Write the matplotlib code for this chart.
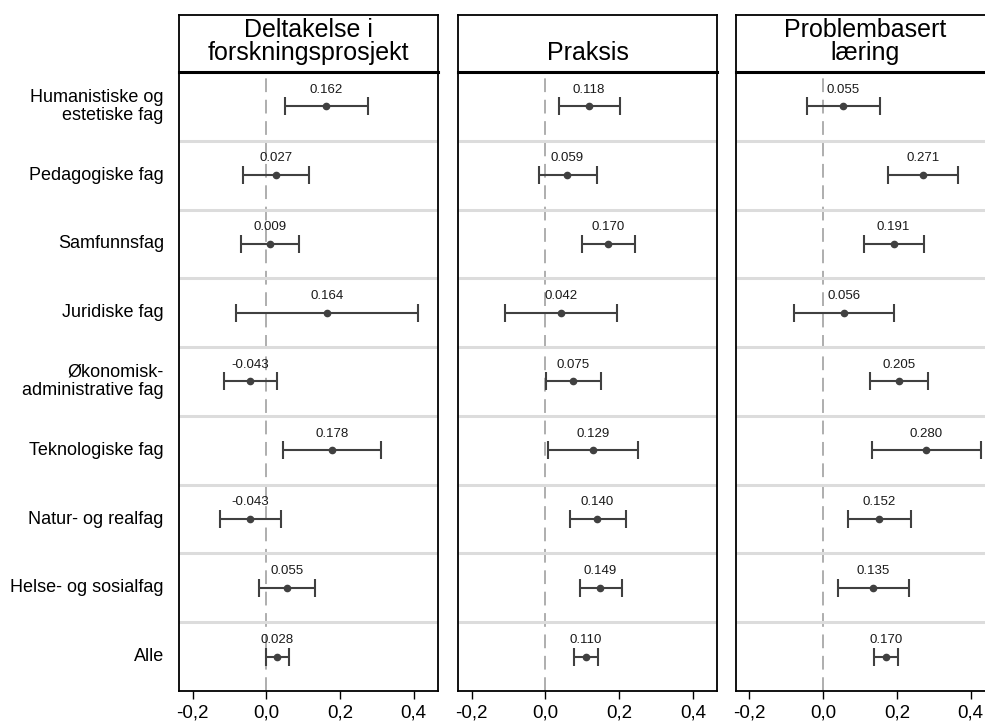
import matplotlib
matplotlib.use("Agg")
import matplotlib.pyplot as plt

plt.rcParams['font.family'] = ['Liberation Sans', 'DejaVu Sans']
plt.rcParams['axes.unicode_minus'] = False

categories = ["Humanistiske og\nestetiske fag", "Pedagogiske fag", "Samfunnsfag",
              "Juridiske fag", "Økonomisk-\nadministrative fag", "Teknologiske fag",
              "Natur- og realfag", "Helse- og sosialfag", "Alle"]
panel_titles = ["Deltakelse i\nforskningsprosjekt", "Praksis", "Problembasert\nlæring"]

est_forsk = [0.162, 0.027, 0.009, 0.164, -0.043, 0.178, -0.043, 0.055, 0.028]
lo_forsk = [0.050, -0.062, -0.068, -0.081, -0.115, 0.045, -0.125, -0.020, -0.002]
hi_forsk = [0.276, 0.116, 0.089, 0.411, 0.030, 0.312, 0.041, 0.133, 0.061]

est_praksis = [0.118, 0.059, 0.170, 0.042, 0.075, 0.129, 0.140, 0.149, 0.110]
lo_praksis = [0.036, -0.018, 0.100, -0.109, 0.003, 0.007, 0.068, 0.093, 0.079]
hi_praksis = [0.202, 0.141, 0.243, 0.195, 0.150, 0.252, 0.218, 0.209, 0.143]

est_pbl = [0.055, 0.271, 0.191, 0.056, 0.205, 0.280, 0.152, 0.135, 0.170]
lo_pbl = [-0.045, 0.177, 0.110, -0.078, 0.126, 0.132, 0.067, 0.040, 0.137]
hi_pbl = [0.155, 0.366, 0.273, 0.191, 0.284, 0.429, 0.239, 0.232, 0.203]

xticks = [-0.2, 0.0, 0.2, 0.4]
xtick_labels = ["-0,2", "0,0", "0,2", "0,4"]

series = [(est_forsk, lo_forsk, hi_forsk),
          (est_praksis, lo_praksis, hi_praksis),
          (est_pbl, lo_pbl, hi_pbl)]

fig = plt.figure(figsize=(9.85, 7.24), dpi=100)

lefts = [0.1817, 0.465, 0.747]
width = 0.263
bottom = 0.0456
top = 0.9006
head_top = 0.979
ink = "#404040"
n = len(categories)
ypos = [i + 0.5 for i in range(n)]

for k, (est, lo, hi) in enumerate(series):
    ax = fig.add_axes([lefts[k], bottom, width, top - bottom])
    ax.set_xlim(-0.237, 0.466)
    ax.set_ylim(n, 0)
    ax.axvline(0, color="#999999", lw=1.1, dashes=(9, 5), zorder=1)
    for s in range(1, n):
        ax.axhline(s, color="#dcdcdc", lw=2.2, zorder=2)
    xerr = [[e - l for e, l in zip(est, lo)], [h - e for e, h in zip(est, hi)]]
    ax.errorbar(est, ypos, xerr=xerr, fmt="o", color=ink, ms=4.5, lw=1.5,
                capsize=6.5, capthick=1.5, zorder=3)
    for e, y in zip(est, ypos):
        ax.annotate(f"{e:.3f}", (e, y), xytext=(0, 12), textcoords="offset points",
                    ha="center", va="center", fontsize=9.5, color="#1a1a1a")
    ax.set_xticks(xticks)
    ax.set_xticklabels(xtick_labels, fontsize=13.5)
    ax.tick_params(axis="x", length=5.5, width=1, pad=4)
    ax.set_yticks([])
    for sp in ax.spines.values():
        sp.set_linewidth(1.3)
    ax.spines["top"].set_visible(False)
    if k == 0:
        for c, y in zip(categories, ypos):
            ax.text(-0.278, y, c, ha="right", va="center", fontsize=13,
                    linespacing=1.1, transform=ax.transData)

    hax = fig.add_axes([lefts[k], top, width, head_top - top])
    hax.set_xticks([])
    hax.set_yticks([])
    for sp in hax.spines.values():
        sp.set_linewidth(1.3)
    hax.spines["bottom"].set_linewidth(2.2)
    hax.text(0.5, 0.13, panel_titles[k], ha="center", va="bottom", fontsize=18,
             linespacing=0.95, transform=hax.transAxes)

fig.savefig("out.png", dpi=100)
